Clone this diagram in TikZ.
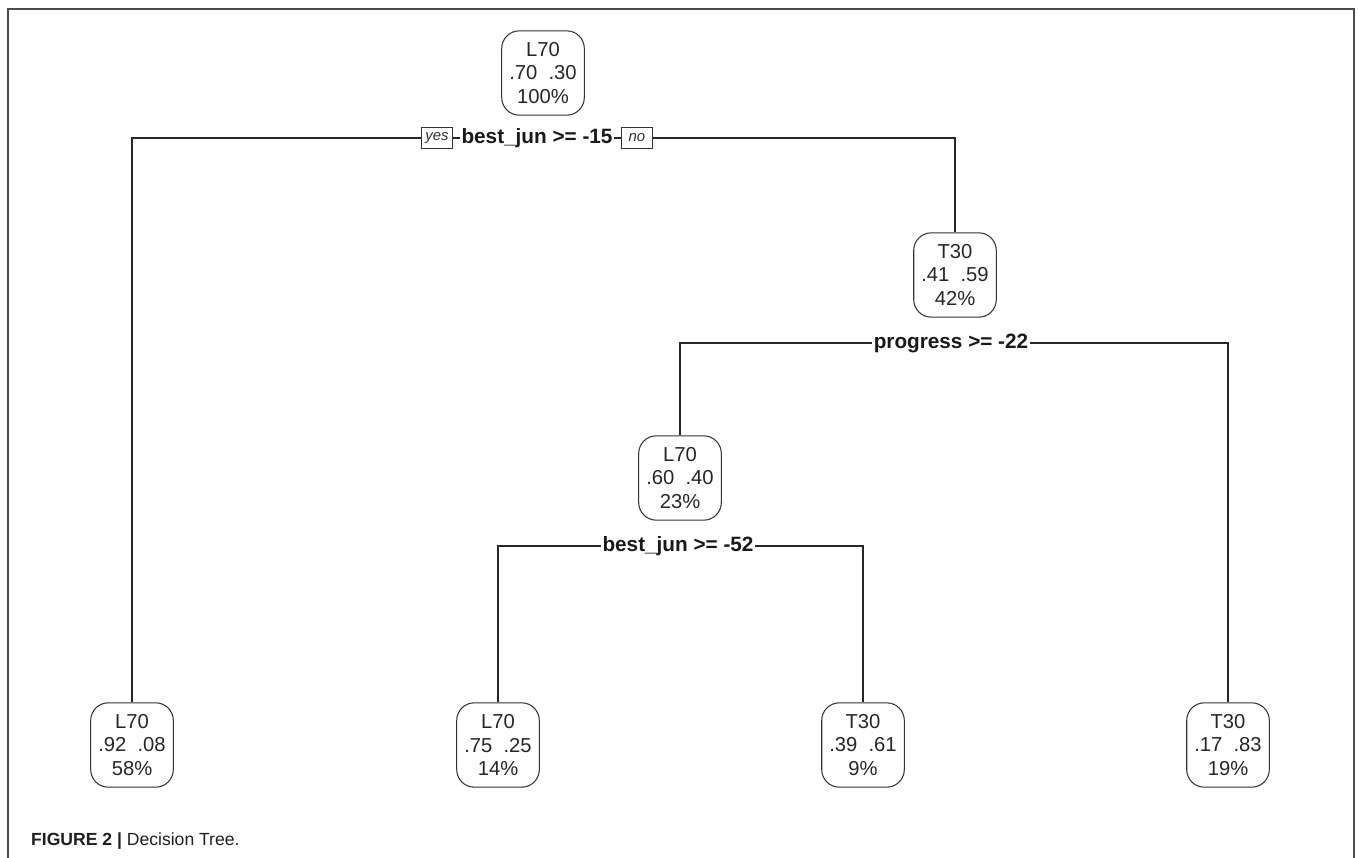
\documentclass[tikz,border=0pt]{standalone}
\usepackage{fontspec}
\setmainfont{Liberation Sans}
\usetikzlibrary{positioning}
\begin{document}
\begin{tikzpicture}[
      x=0.02cm, y=-0.02cm,
      font=\fontsize{11.5}{13.4}\selectfont,
      box/.style={draw=black!80, rounded corners=10pt, minimum width=47pt,
                  minimum height=48pt, align=center, inner sep=1pt,
                  line width=.6pt, text=black!85},
      split/.style={fill=white, inner xsep=1pt, inner ysep=1.5pt,
                    font=\fontsize{11.8}{13}\selectfont\bfseries, text=black!90},
      tag/.style={draw=black!80, fill=white, inner xsep=2pt, inner ysep=1pt,
                  minimum width=18pt, minimum height=12pt, line width=.45pt,
                  font=\fontsize{8.5}{9}\selectfont\itshape, text=black!80},
      edge/.style={draw=black!85, line width=.65pt},
      node distance=3.5pt
    ]
    \useasboundingbox (0,0) rectangle (1358,858);
    % Frame (open at the bottom).
    \draw[line width=.8pt, black!70] (8,858) -- (8,9) -- (1354,9) -- (1354,858);

    % Tree nodes.
    \node[box] (root) at (543,73) {L70\\.70\ \ .30\\100\%};
    \node[box] (n3) at (955,275) {T30\\.41\ \ .59\\42\%};
    \node[box] (n6) at (680,478) {L70\\.60\ \ .40\\23\%};
    \node[box] (n2) at (132,745) {L70\\.92\ \ .08\\58\%};
    \node[box] (n12) at (498,745) {L70\\.75\ \ .25\\14\%};
    \node[box] (n13) at (863,745) {T30\\.39\ \ .61\\9\%};
    \node[box] (n7) at (1228,745) {T30\\.17\ \ .83\\19\%};

    % Split points.
    \coordinate (c1) at (537,138);
    \coordinate (c2) at (951,343);
    \coordinate (c3) at (678,546);
    \draw[edge] (n2.north) |- (c1) -| (n3.north);
    \draw[edge] (n6.north) |- (c2) -| (n7.north);
    \draw[edge] (n12.north) |- (c3) -| (n13.north);

    % Split labels.
    \node[split] (s1) at (c1) {best\_jun >= -15};
    \node[tag, left=of s1] (yes) {yes};
    \node[tag, right=of s1] (no) {no};
    \node[split] (s2) at (c2) {progress >= -22};
    \node[split] (s3) at (c3) {best\_jun >= -52};

    \node[anchor=base west, font=\fontsize{10}{12}\selectfont, text=black!88]
      (caption) at (25,845) {\textbf{FIGURE 2 |} Decision Tree.};
  \end{tikzpicture}
\end{document}
